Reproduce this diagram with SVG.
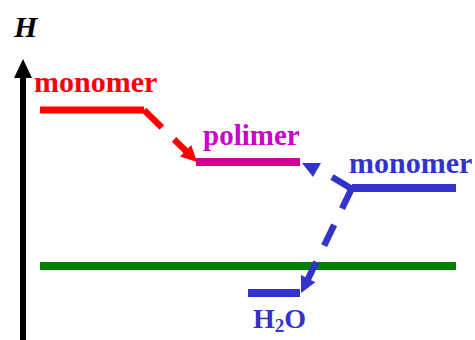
<svg xmlns="http://www.w3.org/2000/svg" width="475" height="340" viewBox="0 0 475 340">
<style>
text{font-family:"Liberation Serif","Times New Roman",serif;font-weight:bold;}
.lvl{stroke-width:8;fill:none}
.red{stroke:#FF0000;fill:#FF0000}
.blue{stroke:#3333CC;fill:#3333CC}
</style>
<rect width="475" height="340" fill="#fff"/>
<g id="axis">
<line x1="23" y1="76" x2="23" y2="340" stroke="#000" stroke-width="6"/>
<polygon points="23,59 14,78 32,78" fill="#000"/>
<text x="14" y="37" font-size="30" font-style="italic" fill="#000">H</text>
</g>
<g id="water-level">
<line x1="40" y1="266" x2="456" y2="266" stroke="#008000" stroke-width="8"/>
</g>
<g id="monomer-left">
<line x1="40" y1="110" x2="144" y2="110" stroke="#FF0000" stroke-width="7"/>
<text x="34" y="92" font-size="30" fill="#FF0000">monomer</text>
</g>
<g id="polimer">
<line x1="196" y1="162" x2="300" y2="162" stroke="#CC0099" stroke-width="8"/>
<text x="203" y="145" font-size="29" fill="#CC00CC">polimer</text>
</g>
<g id="monomer-right">
<line x1="352" y1="188" x2="456" y2="188" stroke="#3333CC" stroke-width="8"/>
<text x="349" y="173" font-size="30" fill="#3333CC">monomer</text>
</g>
<g id="h2o">
<line x1="248" y1="293" x2="300" y2="293" stroke="#3333CC" stroke-width="8"/>
<text x="253" y="328" font-size="28" fill="#3333CC">H<tspan font-size="19" dy="4">2</tspan><tspan dy="-4">O</tspan></text>
</g>
<g id="connectors">
<line x1="144" y1="110" x2="187" y2="152" stroke="#FF0000" stroke-width="6.5" stroke-dasharray="25 17"/>
<polygon points="197,162 180,156.5 191.2,145.1" fill="#FF0000"/>
<line x1="352" y1="189" x2="332" y2="177" stroke="#3333CC" stroke-width="6.5"/>
<polygon points="302,163 321,163 313,177" fill="#3333CC"/>
<line x1="352" y1="188" x2="308" y2="279" stroke="#3333CC" stroke-width="6.5" stroke-dasharray="23 18"/>
<polygon points="301,293 315.4,282.3 301,275.1" fill="#3333CC"/>
</g>
</svg>
